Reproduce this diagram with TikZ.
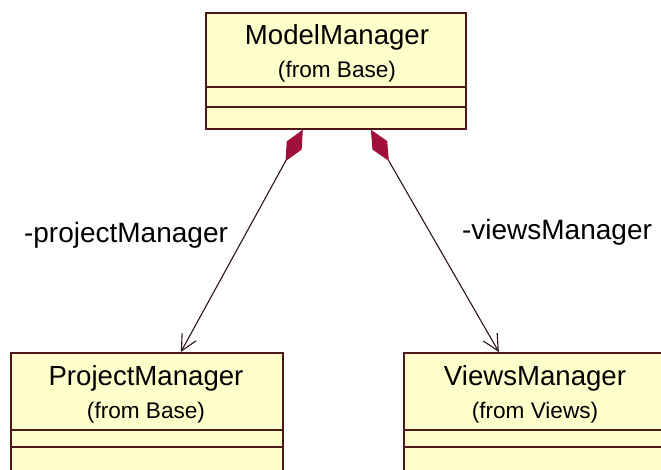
\documentclass[tikz,border=0pt]{standalone}
\usepackage{fontspec}
\setmainfont{Liberation Sans}
\usetikzlibrary{arrows.meta,calc}
\definecolor{classfill}{HTML}{FFFFCC}
\definecolor{classline}{HTML}{4E1818}
\definecolor{aggfill}{HTML}{A0103A}
\definecolor{linkline}{HTML}{2E1418}
\tikzset{
  classbox/.style={draw=classline, fill=classfill, line width=1.7pt,
    rectangle, inner sep=0pt, anchor=north west},
  divider/.style={draw=classline, line width=1.7pt},
  classname/.style={font=\fontsize{27.6}{30}\selectfont, inner sep=0pt},
  classfrom/.style={font=\fontsize{22.6}{25}\selectfont, inner sep=0pt},
  rolename/.style={font=\fontsize{28}{30}\selectfont, inner sep=0pt},
  composition/.style={draw=linkline, line width=1.1pt,
    {Diamond[length=36pt,width=17pt,fill=aggfill,color=aggfill]}-{Straight Barb[length=16pt,width=16pt,line width=1.1pt]}}
}
\begin{document}
\begin{tikzpicture}[x=1pt,y=-1pt]
  \fill[white] (0,0) rectangle (661,470);
  \clip (0,0) rectangle (661,470);

  % ModelManager class
  \node[classbox, minimum width=260pt, minimum height=116pt] (mm) at (205,12) {};
  \draw[divider] (205,87) -- (465,87) (205,107) -- (465,107);
  \node[classname] (mmname) at (337,37) {ModelManager};
  \node[classfrom] (mmfrom) at (337,72) {(from Base)};

  % ProjectManager class
  \node[classbox, minimum width=272pt, minimum height=140pt] (pm) at (10,352) {};
  \draw[divider] (10,430) -- (282,430) (10,447) -- (282,447);
  \node[classname] (pmname) at (146,378) {ProjectManager};
  \node[classfrom] (pmfrom) at (146,413) {(from Base)};

  % ViewsManager class
  \node[classbox, minimum width=264pt, minimum height=140pt] (vm) at (403,352) {};
  \draw[divider] (403,430) -- (667,430) (403,447) -- (667,447);
  \node[classname] (vmname) at (535,378) {ViewsManager};
  \node[classfrom] (vmfrom) at (535,413) {(from Views)};

  % composition links
  \draw[composition] ($(mm.south)+(-33,0)$) -- ($(pm.north)+(34,0)$);
  \draw[composition] ($(mm.south)+(35,0)$) -- ($(vm.north)+(-37,0)$);

  % role names
  \node[rolename] (prole) at (126,235) {-projectManager};
  \node[rolename] (vrole) at (557,232) {-viewsManager};
\end{tikzpicture}
\end{document}
